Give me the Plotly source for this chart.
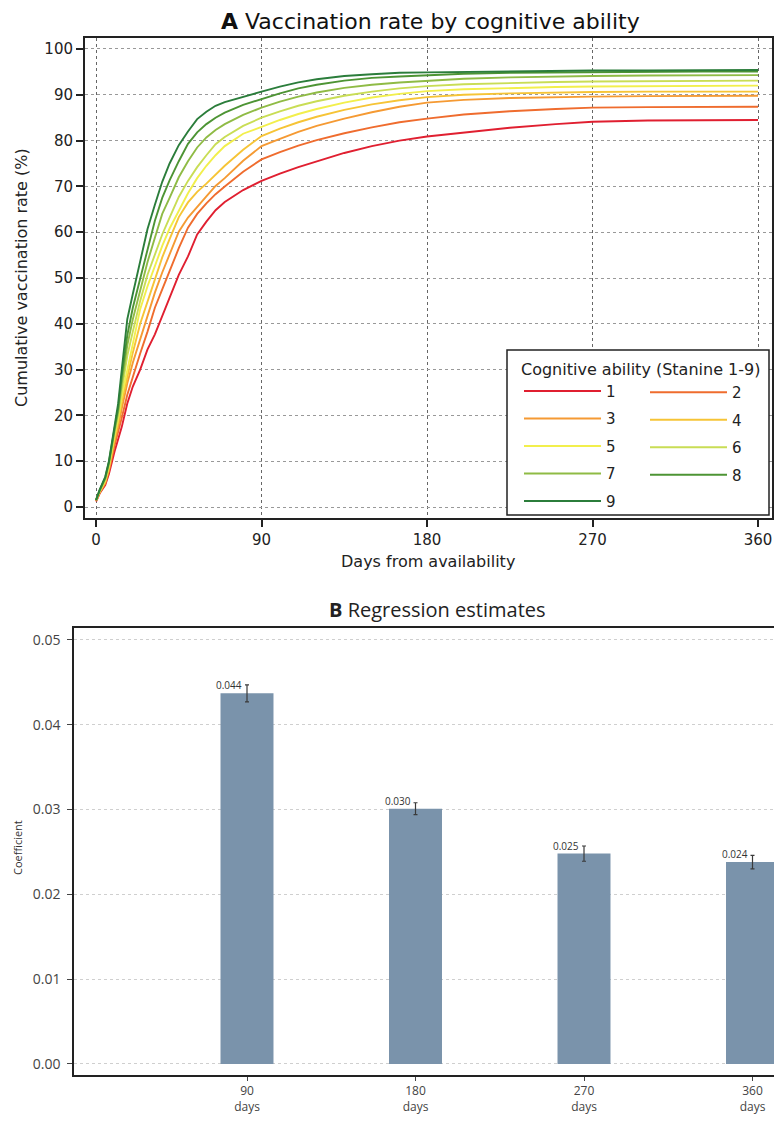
import plotly.graph_objects as go

# Browser page has an 8px body margin: the figure is sized to fit the window exactly
OFF = 8
FW, FH = 782 - 2 * OFF, 1124 - 2 * OFF

# ---------------- Panel A data ----------------
days = [0, 2, 5, 7, 10, 12, 14, 17, 20, 24, 28, 32, 36, 40, 45, 50, 55, 60, 65, 70, 80, 90,
        100, 110, 120, 135, 150, 165, 180, 200, 225, 250, 270, 300, 330, 360]

stanine_1 = [1.2, 3.0, 4.8, 7.2, 12.0, 14.5, 17.5, 22.6, 26.3, 30.0, 34.4, 37.7, 41.7, 45.3, 50.7, 54.7, 59.5, 62.3, 64.8, 66.6, 69.2, 71.2,
             72.8, 74.2, 75.5, 77.3, 78.8, 80.0, 80.9, 81.8, 82.8, 83.6, 84.1, 84.4, 84.5, 84.5]
stanine_2 = [1.3, 3.1, 5.1, 7.8, 13.3, 16.3, 19.5, 24.5, 28.5, 33.5, 38.3, 43.5, 47.5, 51.5, 56.5, 61.0, 64.0, 66.3, 68.3, 70.0, 73.2, 75.9,
             77.5, 78.9, 80.1, 81.6, 82.9, 84.0, 84.8, 85.7, 86.4, 86.9, 87.2, 87.3, 87.4, 87.4]
stanine_3 = [1.4, 3.2, 5.4, 8.3, 14.3, 17.5, 21.5, 27.0, 31.5, 36.5, 41.8, 46.8, 51.2, 55.3, 60.1, 63.2, 65.6, 67.8, 70.1, 71.8, 75.6, 78.8,
             80.4, 81.9, 83.2, 84.8, 86.2, 87.4, 88.3, 88.9, 89.3, 89.5, 89.6, 89.7, 89.7, 89.8]
stanine_4 = [1.5, 3.3, 5.6, 8.6, 15.0, 18.5, 23.0, 28.5, 33.7, 40.0, 45.0, 50.0, 54.5, 58.5, 63.3, 66.5, 68.8, 70.6, 72.6, 74.5, 78.0, 81.0,
             82.6, 84.0, 85.2, 86.7, 87.9, 88.8, 89.5, 90.0, 90.3, 90.5, 90.6, 90.7, 90.7, 90.7]
stanine_5 = [1.5, 3.4, 5.8, 8.9, 15.5, 19.3, 24.2, 30.0, 36.0, 43.2, 48.2, 52.8, 57.0, 60.8, 64.8, 68.5, 71.8, 74.5, 76.8, 78.8, 81.5, 83.0,
             84.5, 85.8, 86.9, 88.3, 89.4, 90.2, 90.8, 91.2, 91.5, 91.7, 91.8, 91.9, 91.9, 92.0]
stanine_6 = [1.5, 3.5, 6.0, 9.2, 16.0, 20.0, 25.5, 33.0, 38.3, 45.0, 50.7, 55.3, 59.5, 63.2, 67.7, 71.2, 74.2, 76.8, 79.2, 80.8, 83.2, 85.0,
             86.4, 87.6, 88.6, 89.8, 90.7, 91.4, 91.9, 92.3, 92.6, 92.8, 92.9, 93.0, 93.1, 93.1]
stanine_7 = [1.5, 3.6, 6.2, 9.5, 16.5, 20.8, 27.0, 35.3, 41.0, 47.3, 53.5, 58.8, 64.0, 67.5, 72.0, 75.5, 78.5, 80.7, 82.3, 83.6, 85.6, 87.2,
             88.5, 89.6, 90.5, 91.5, 92.2, 92.7, 93.1, 93.5, 93.8, 94.0, 94.1, 94.2, 94.2, 94.3]
stanine_8 = [1.5, 3.7, 6.4, 9.8, 17.0, 21.5, 28.5, 37.5, 43.5, 50.0, 56.5, 62.5, 67.5, 71.3, 75.5, 79.3, 81.8, 83.6, 85.0, 86.1, 87.8, 89.1,
             90.3, 91.4, 92.2, 93.1, 93.7, 94.0, 94.3, 94.6, 94.8, 94.9, 95.0, 95.0, 95.1, 95.1]
stanine_9 = [1.5, 3.8, 6.6, 10.0, 17.5, 22.5, 30.0, 41.0, 46.5, 53.5, 60.7, 66.0, 71.0, 75.0, 79.0, 82.0, 84.7, 86.3, 87.6, 88.4, 89.6, 90.7,
             91.8, 92.7, 93.4, 94.1, 94.5, 94.8, 94.9, 95.0, 95.1, 95.2, 95.3, 95.3, 95.4, 95.4]

stanine_series = [stanine_1, stanine_2, stanine_3, stanine_4, stanine_5,
                  stanine_6, stanine_7, stanine_8, stanine_9]
stanine_labels = ["1", "2", "3", "4", "5", "6", "7", "8", "9"]
stanine_colors = ["#e01f30", "#ef6c2e", "#f59a33", "#f6c436", "#f2ef4c",
                  "#c9dd55", "#8fbb45", "#4d9434", "#2b7d3b"]

day_ticks = [0, 90, 180, 270, 360]
rate_ticks = [0, 10, 20, 30, 40, 50, 60, 70, 80, 90, 100]

# ---------------- Panel B data ----------------
horizons = [90, 180, 270, 360]
horizon_labels = ["90<br>days", "180<br>days", "270<br>days", "360<br>days"]
coef = [0.0437, 0.0301, 0.0248, 0.0238]
coef_err = [0.0010, 0.0007, 0.0009, 0.0008]
coef_text = ["0.044", "0.030", "0.025", "0.024"]
coef_ticks = [0.00, 0.01, 0.02, 0.03, 0.04, 0.05]
coef_ticktext = ["0.00", "0.01", "0.02", "0.03", "0.04", "0.05"]


def px_x(p):
    return (p - OFF) / FW


def px_y(p):
    return 1 - (p - OFF) / FH


fig = go.Figure()

for i, (vals, lab, col) in enumerate(zip(stanine_series, stanine_labels, stanine_colors)):
    fig.add_trace(go.Scatter(
        x=days, y=vals, mode="lines", name=lab,
        line=dict(color=col, width=1.9),
        legend="legend" if i % 2 == 0 else "legend2",
        legendgroup="g" + lab,
        xaxis="x", yaxis="y", hoverinfo="skip",
    ))

fig.add_trace(go.Bar(
    x=horizons, y=coef, width=28.3,
    marker=dict(color="#7a93ab", line=dict(width=0)),
    error_y=dict(type="data", array=coef_err, visible=True,
                 color="#3a3a3a", thickness=1.2, width=2),
    xaxis="x2", yaxis="y2", showlegend=False, hoverinfo="skip",
))

axis_font_a = dict(family="DejaVu Sans", size=15, color="#222222")
x2_right_px = 782 - OFF
days_per_px = 90 / 168.5

bar_labels = [
    dict(text=t, x=h, y=c, xref="x2", yref="y2",
         xanchor="right", yanchor="bottom", xshift=-3, yshift=-1, showarrow=False,
         font=dict(family="Open Sans", size=10, color="#333333"))
    for h, c, t in zip(horizons, coef, coef_text)
]

fig.update_layout(
    width=FW, height=FH,
    margin=dict(l=0, r=0, t=0, b=0),
    paper_bgcolor="white", plot_bgcolor="white",
    showlegend=True,
    xaxis=dict(
        domain=[px_x(85), px_x(772)], range=[-6, 367.6],
        tickvals=day_ticks, ticks="outside", ticklen=7, tickwidth=1.5, tickcolor="#222",
        tickfont=axis_font_a,
        showline=True, linecolor="#222", linewidth=2, mirror=True,
        showgrid=True, gridcolor="#666", griddash="dot", gridwidth=1,
        zeroline=False, automargin=False, anchor="y",
    ),
    yaxis=dict(
        domain=[px_y(518), px_y(38)], range=[-2.4, 102.4],
        tickvals=rate_ticks, ticks="outside", ticklen=7, tickwidth=1.5, tickcolor="#222",
        tickfont=axis_font_a,
        showline=True, linecolor="#222", linewidth=2, mirror=True,
        showgrid=True, gridcolor="#999", griddash="dot", gridwidth=1,
        zeroline=False, automargin=False, anchor="x",
    ),
    xaxis2=dict(
        domain=[px_x(74), 1.0],
        range=[(74 - 78.5) * days_per_px, (x2_right_px - 78.5) * days_per_px],
        tickvals=horizons, ticktext=horizon_labels,
        ticks="outside", ticklen=4, tickwidth=1, tickcolor="#444",
        tickfont=dict(family="Open Sans", size=12, color="#444"),
        showline=True, linecolor="#222", linewidth=1.5, mirror=True,
        showgrid=False, zeroline=False, automargin=False, anchor="y2",
    ),
    yaxis2=dict(
        domain=[px_y(1075), px_y(628)], range=[-0.0013, 0.0514],
        tickvals=coef_ticks, ticktext=coef_ticktext,
        ticks="outside", ticklen=5, tickwidth=1, tickcolor="#444",
        tickfont=dict(family="Open Sans", size=14, color="#444"),
        ticklabelstandoff=4,
        showline=True, linecolor="#222", linewidth=1.5, mirror=False,
        showgrid=True, gridcolor="#cfcfcf", griddash="dot", gridwidth=1,
        zeroline=False, automargin=False, anchor="x2",
    ),
    legend=dict(
        x=px_x(519), y=px_y(354), xanchor="left", yanchor="top",
        bgcolor="rgba(0,0,0,0)", borderwidth=0,
        title=dict(text="Cognitive ability (Stanine 1-9)",
                   font=dict(family="DejaVu Sans", size=16, color="#222")),
        font=dict(family="DejaVu Sans", size=15, color="#222"),
        itemwidth=77, tracegroupgap=5, traceorder="grouped",
    ),
    legend2=dict(
        x=px_x(645), y=px_y(376), xanchor="left", yanchor="top",
        bgcolor="rgba(0,0,0,0)", borderwidth=0,
        font=dict(family="DejaVu Sans", size=15, color="#222"),
        itemwidth=77, tracegroupgap=5, traceorder="grouped",
    ),
    shapes=[
        dict(type="rect", xref="paper", yref="paper",
             x0=px_x(507), x1=px_x(769), y0=px_y(515), y1=px_y(350),
             line=dict(color="#222", width=1.5), fillcolor="white", layer="above"),
    ],
    annotations=[
        dict(text="<b>A</b> Vaccination rate by cognitive ability",
             x=px_x(430), y=px_y(22), xref="paper", yref="paper",
             xanchor="center", yanchor="middle", showarrow=False,
             font=dict(family="DejaVu Sans", size=22, color="#111")),
        dict(text="Days from availability",
             x=px_x(428), y=px_y(561), xref="paper", yref="paper",
             xanchor="center", yanchor="middle", showarrow=False,
             font=dict(family="DejaVu Sans", size=16, color="#222")),
        dict(text="Cumulative vaccination rate (%)",
             x=px_x(21), y=px_y(278), xref="paper", yref="paper",
             xanchor="center", yanchor="middle", showarrow=False, textangle=-90,
             font=dict(family="DejaVu Sans", size=16, color="#222")),
        dict(text="<b>B</b> Regression estimates",
             x=px_x(437), y=px_y(609), xref="paper", yref="paper",
             xanchor="center", yanchor="middle", showarrow=False,
             font=dict(family="Open Sans", size=20, color="#222")),
        dict(text="Coefficient",
             x=px_x(17), y=px_y(848), xref="paper", yref="paper",
             xanchor="center", yanchor="middle", showarrow=False, textangle=-90,
             font=dict(family="Open Sans", size=11, color="#333")),
    ] + bar_labels,
)

fig.write_html("out.html")
